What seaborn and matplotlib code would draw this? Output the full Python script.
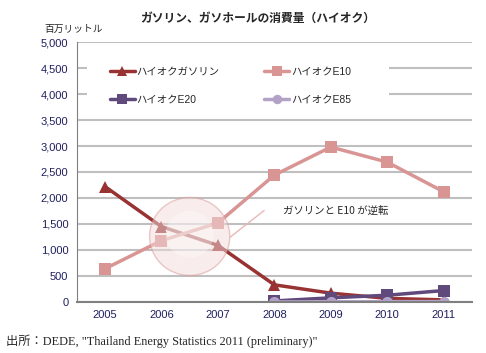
import pandas as pd
import matplotlib
matplotlib.use("Agg")
import matplotlib.pyplot as plt
import seaborn as sns
from matplotlib.patches import Ellipse, Rectangle

# Data (million litres)
years = [2005, 2006, 2007, 2008, 2009, 2010, 2011]
gasoline = [2220, 1450, 1090, 330, 170, 70, 40]
e10 = [640, 1180, 1520, 2440, 2980, 2690, 2120]
e20_years = [2008, 2009, 2010, 2011]
e20 = [20, 80, 130, 220]
e85 = [2, 4, 6, 8]

names = ["ハイオクガソリン", "ハイオクE10", "ハイオクE20", "ハイオクE85"]
colors = ["#993333", "#D99594", "#604A7B", "#B3A2C7"]
markers = ["^", "s", "s", "o"]

df = pd.concat([
    pd.DataFrame({"year": years, "value": gasoline, "series": names[0]}),
    pd.DataFrame({"year": years, "value": e10, "series": names[1]}),
    pd.DataFrame({"year": e20_years, "value": e20, "series": names[2]}),
    pd.DataFrame({"year": e20_years, "value": e85, "series": names[3]}),
])

sns.set_style("white")
plt.rcParams["font.family"] = ["Liberation Sans", "Noto Sans CJK JP", "DejaVu Sans"]

fig = plt.figure(figsize=(4.86, 3.53), dpi=100)
ax = fig.add_axes([0.158, 0.1445, 0.813, 0.7365])

sns.lineplot(data=df, x="year", y="value", hue="series", style="series",
             hue_order=names, style_order=names,
             palette=dict(zip(names, colors)),
             markers=dict(zip(names, markers)), dashes=False,
             linewidth=2.5, markersize=8, markeredgewidth=0, ax=ax)

# highlight circle where gasoline and E10 cross
ax.add_patch(Ellipse((2006.5, 1260), 1.42, 1500, facecolor="#F2DCDB",
                     edgecolor="#D99594", alpha=0.5, linewidth=1, zorder=5))
ax.add_patch(Ellipse((2006.5, 1300), 0.85, 900, facecolor="white",
                     edgecolor="none", alpha=0.3, zorder=6))
ax.plot([2007.22, 2007.82], [1250, 1760], color="#E6B9B8", linewidth=1, zorder=6)
ax.text(2008.15, 1750, "ガソリンと E10 が逆転", fontsize=7.5, va="center",
        family=["Noto Sans CJK JP", "DejaVu Sans"])

ax.set_xlim(2004.5, 2011.5)
ax.set_ylim(0, 5000)
ax.set_xticks(years)
ax.set_xticklabels([str(y) for y in years])
ax.set_yticks(range(0, 5001, 500))
ax.set_yticklabels([f"{v:,}" for v in range(0, 5001, 500)])
ax.tick_params(axis="both", labelsize=8, colors="#1F1F5F", length=0, pad=6)
ax.grid(axis="y", color="#BFBFBF", linewidth=1.5)
ax.set_axisbelow(True)
for s in ["top", "right"]:
    ax.spines[s].set_visible(False)
ax.spines["left"].set_color("#808080")
ax.spines["bottom"].set_color("#808080")
ax.spines["bottom"].set_linewidth(1.5)
ax.set_xlabel("")
ax.set_ylabel("")

# white legend area hiding the gridlines
ax.add_patch(Rectangle((0.025, 0.74), 0.765, 0.21, transform=ax.transAxes,
                       facecolor="white", edgecolor="none", zorder=1.5))

handles, labels = ax.get_legend_handles_labels()
order = [0, 2, 1, 3]  # row-major order: gasoline, E10 / E20, E85
leg = ax.legend([handles[i] for i in order], [labels[i] for i in order],
                ncol=2, loc="upper left", bbox_to_anchor=(0.06, 0.942),
                frameon=False, fontsize=7.5, handlelength=2.4,
                handletextpad=0.15, labelspacing=1.7, columnspacing=4.3,
                markerscale=0.85)

fig.text(0.53, 0.948, "ガソリン、ガソホールの消費量（ハイオク）", ha="center", va="center",
         fontsize=8.5, fontweight="bold", family=["Noto Sans CJK JP", "DejaVu Sans"])
fig.text(0.092, 0.918, "百万リットル", fontsize=7, va="center",
         family=["Noto Sans CJK JP", "DejaVu Sans"])
fig.text(0.012, 0.032, "出所：DEDE, \"Thailand Energy Statistics 2011 (preliminary)\"",
         fontsize=8.8, va="center", family=["Liberation Serif", "Noto Sans CJK JP"])

fig.savefig("out.png", dpi=100)
